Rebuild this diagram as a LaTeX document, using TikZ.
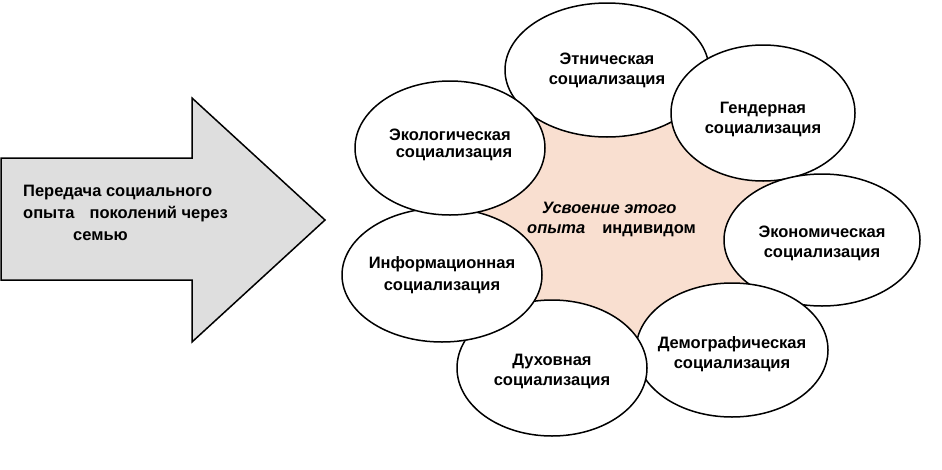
\documentclass[tikz,border=0pt]{standalone}
\usepackage{fontspec}
\setmainfont{Liberation Sans}
\usetikzlibrary{shapes.geometric}
\definecolor{peach}{RGB}{249,223,208}
\definecolor{arrowgray}{RGB}{222,222,222}
\begin{document}
\begin{tikzpicture}[x=1pt,y=-1pt,
  soc/.style={ellipse, draw=black, fill=white, line width=1.5pt, inner sep=0pt},
  lab/.style={inner sep=0pt, align=center, font=\fontsize{16.5}{20}\selectfont\bfseries},
  txt/.style={inner sep=0pt, anchor=base west, font=\fontsize{16.5}{20}\selectfont\bfseries},
  bigarrow/.style={draw=black, line width=1.5pt, fill=arrowgray, line join=miter}
  ]
\useasboundingbox (0,0) rectangle (942,469);
% block arrow
\coordinate (a1) at (1,158);
\coordinate (a2) at (192,158);
\coordinate (a3) at (192,98);
\coordinate (a4) at (325,220);
\coordinate (a5) at (192,342);
\coordinate (a6) at (192,280);
\coordinate (a7) at (1,280);
\path[bigarrow] (a1) -- (a2) -- (a3) -- (a4) -- (a5) -- (a6) -- (a7) -- cycle;
\node[txt] (t1) at (23,196) {Передача социального};
\node[txt] (t2) at (23,218) {опыта\hspace{15pt}поколений через};
\node[txt] (t3) at (73,240) {семью};
% centres
\coordinate (ceth) at (607,70);
\coordinate (cgen) at (763,113);
\coordinate (ceco) at (822,240);
\coordinate (cdem) at (732,350);
\coordinate (cduh) at (552,368);
\coordinate (cinf) at (442,275);
\coordinate (cekl) at (450,148);
\fill[peach] (ceth) -- (cgen) -- (ceco) -- (cdem) -- (cduh) -- (cinf) -- (cekl) -- cycle;
% ellipses (drawing order matters)
\node[soc, minimum width=204pt, minimum height=134pt,
  label={[lab]center:{Этническая\\социализация}}] (eth) at (ceth) {};
\node[soc, minimum width=184pt, minimum height=136pt,
  label={[lab, yshift=-6pt]center:{Гендерная\\социализация}}] (gen) at (cgen) {};
\node[soc, minimum width=196pt, minimum height=132pt,
  label={[lab, yshift=-3pt]center:{Экономическая\\социализация}}] (eco) at (ceco) {};
\node[soc, minimum width=192pt, minimum height=134pt,
  label={[lab, yshift=-4pt]center:{Демографическая\\социализация}}] (dem) at (cdem) {};
\node[soc, minimum width=190pt, minimum height=136pt,
  label={[lab, yshift=-3pt]center:{Духовная\\социализация}}] (duh) at (cduh) {};
\node[soc, minimum width=200pt, minimum height=134pt,
  label={[lab, font=\fontsize{16.5}{21.5}\selectfont\bfseries]center:{Информационная\\социализация}}] (inf) at (cinf) {};
\node[soc, minimum width=190pt, minimum height=134pt,
  label={[lab, yshift=3pt, font=\fontsize{16.5}{17}\selectfont\bfseries]center:{Экологическая\\\hspace*{8pt}социализация}}] (ekl) at (cekl) {};
% centre text
\node[txt] (m1) at (542,213) {\itshape Усвоение этого};
\node[txt] (m2) at (527,233) {\textit{опыта}\hspace{17pt}индивидом};
\end{tikzpicture}
\end{document}
